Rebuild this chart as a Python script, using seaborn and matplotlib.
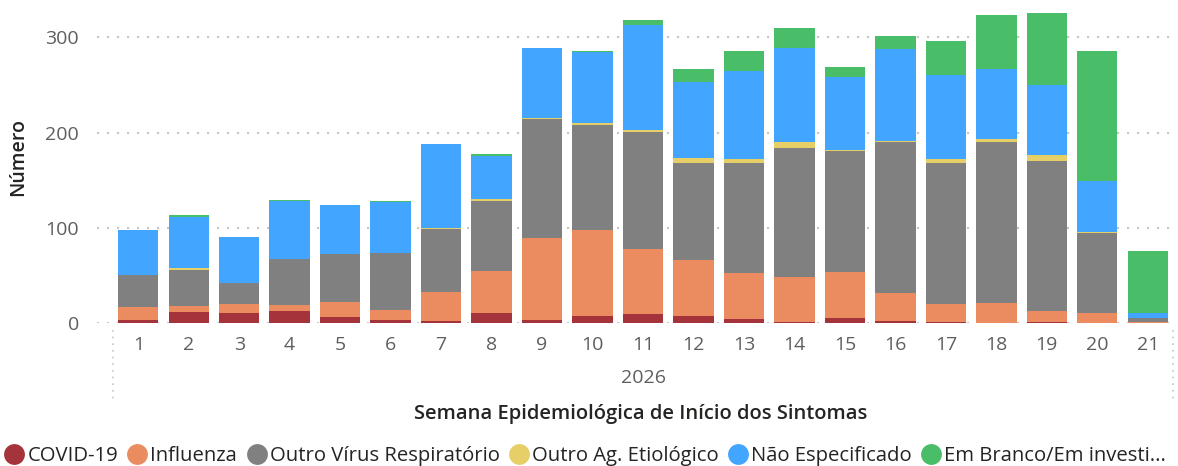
import numpy as np
import pandas as pd
import matplotlib
matplotlib.use("Agg")
import matplotlib.pyplot as plt
import matplotlib.transforms as mtransforms
from matplotlib.lines import Line2D
import seaborn as sns

weeks = [str(w) for w in range(1, 22)]
covid = [3, 12, 10, 13, 6, 3, 2, 10, 3, 7, 9, 7, 4, 1, 5, 2, 1, 0, 1, 0, 0]
influenza = [14, 6, 10, 6, 16, 11, 31, 45, 86, 91, 69, 59, 48, 47, 49, 30, 19, 21, 12, 10, 1]
outro_virus = [33, 38, 22, 48, 50, 59, 66, 73, 125, 110, 123, 102, 116, 136, 127, 158, 148, 169, 157, 85, 4]
outro_ag = [0, 2, 0, 0, 0, 0, 1, 2, 1, 2, 2, 5, 4, 6, 1, 1, 4, 3, 6, 1, 0]
nao_espec = [48, 53, 48, 61, 52, 54, 88, 45, 74, 75, 110, 80, 93, 99, 76, 97, 89, 74, 74, 53, 5]
em_branco = [0, 2, 0, 1, 0, 1, 0, 3, 0, 1, 5, 14, 21, 21, 11, 13, 35, 56, 76, 137, 66]

series = ["COVID-19", "Influenza", "Outro Vírus Respiratório",
          "Outro Ag. Etiológico", "Não Especificado", "Em Branco/Em investi..."]
colors = ["#A4333B", "#EA8B60", "#808080", "#E6CF67", "#42A5FF", "#4ABD69"]

df = pd.DataFrame({
    "semana": weeks,
    series[0]: covid,
    series[1]: influenza,
    series[2]: outro_virus,
    series[3]: outro_ag,
    series[4]: nao_espec,
    series[5]: em_branco,
})
cum = df[series].cumsum(axis=1)
cum["semana"] = weeks

sns.set_style("white")
plt.rcParams["font.family"] = ["Open Sans", "DejaVu Sans"]

fig = plt.figure(figsize=(11.78, 4.66), dpi=100)
ax = fig.add_axes([97 / 1178, 1 - 323 / 466, (1173 - 97) / 1178, (323 - 5) / 466])

# stacked bars: draw cumulative totals from the top layer down
for name, color in reversed(list(zip(series, colors))):
    sns.barplot(data=cum, x="semana", y=name, order=weeks, color=color,
                saturation=1, width=0.8, linewidth=0, ax=ax)

ax.set_xlim(-0.5 - 16 / 50.4, 20.5)
ax.set_ylim(0, 334)
ax.set_yticks([0, 100, 200, 300])
ax.set_xlabel("")
ax.set_ylabel("")
for s in ax.spines.values():
    s.set_visible(False)
ax.yaxis.grid(True, color="#C8C6C4", linewidth=1.5, linestyle=(0, (1, 3.8)))
ax.set_axisbelow(True)
ax.tick_params(axis="both", length=0, labelsize=14, labelcolor="#605E5C")
ax.tick_params(axis="y", pad=13)
ax.tick_params(axis="x", pad=9)

# dotted separators below the category axis
trans = mtransforms.blended_transform_factory(ax.transData, fig.transFigure)
for xv in [-0.5, 20.5]:
    ax.add_line(Line2D([xv, xv], [1 - 330 / 466, 1 - 402 / 466], transform=trans,
                       color="#C8C6C4", linewidth=1.2, linestyle=(0, (1, 3)),
                       clip_on=False))

fig.text((113 + 1173) / 2 / 1178, 1 - 378 / 466, "2026", ha="center", va="center",
         fontsize=14, color="#605E5C")
fig.text(641 / 1178, 1 - 414 / 466,
         "Semana Epidemiológica de Início dos Sintomas", ha="center", va="center",
         fontsize=14.5, color="#252423", fontweight="semibold")
fig.text(18 / 1178, 1 - 157 / 466, "Número", rotation=90, ha="center", va="center",
         fontsize=14, color="#252423", fontweight="semibold")

handles = [Line2D([], [], marker="o", linestyle="", markersize=15,
                  markerfacecolor=c, markeredgewidth=0) for c in colors]
fig.legend(handles, series, ncol=6, loc="center left",
           bbox_to_anchor=(5 / 1178, 1 - 456 / 466), frameon=False,
           fontsize=14.6, labelcolor="#252423", handlelength=0.9,
           handletextpad=0.2, columnspacing=0.5, borderpad=0, borderaxespad=0)

fig.savefig("out.png", dpi=100)
